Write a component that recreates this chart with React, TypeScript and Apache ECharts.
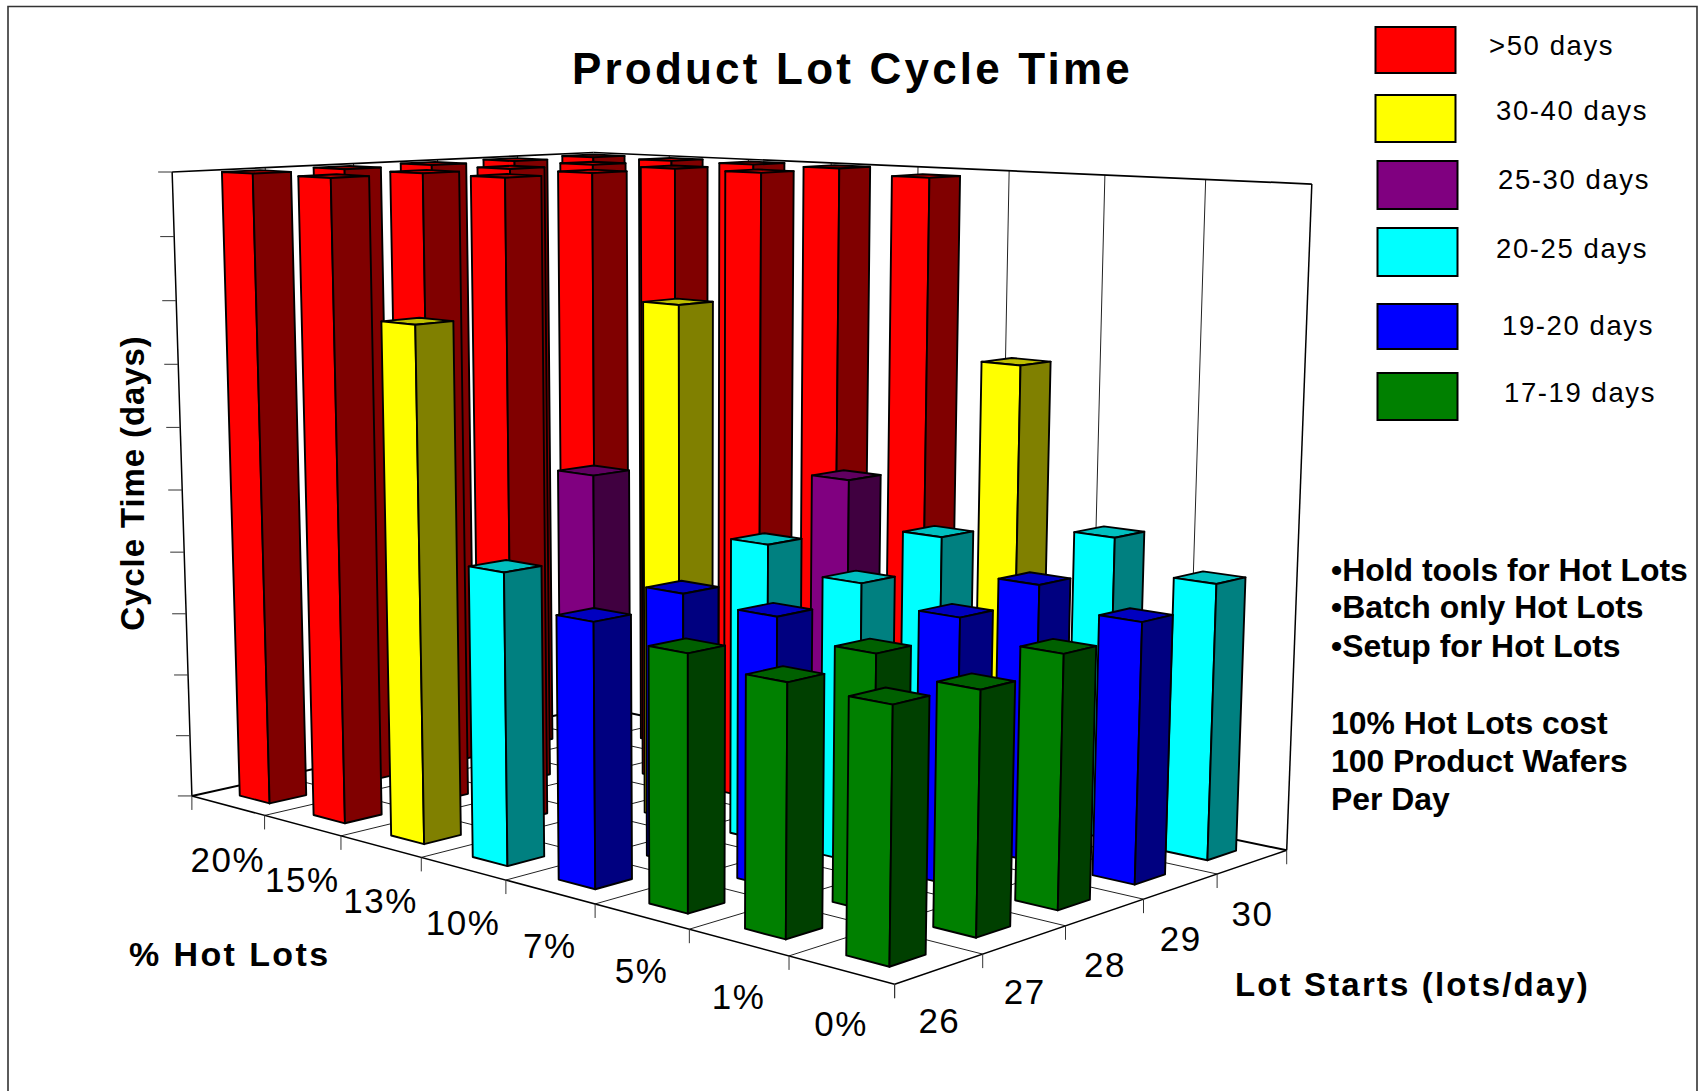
import React, { useEffect, useRef } from "react";
import * as echarts from "echarts";

const hotLots = ["20%", "15%", "13%", "10%", "7%", "5%", "1%", "0%"];
const lotStarts = ["26", "27", "28", "29", "30"];
const zTickCount = 10;
const zMax = 50;

// cycle time in days per lot-start row, ordered like hotLots
const days26 = [50, 50, 39.6, 22.15, 19.7, 18.7, 18, 17.85];
const days27 = [50, 50, 50, 28.3, 20.5, 20, 18.6, 17.4];
const days28 = [50, 50, 50, 40.4, 23, 21.2, 19.85, 18.5];
const days29 = [50, 50, 50, 50, 26.9, 23.5, 21, 19.45];
const days30 = [50, 50, 50, 50, 49.6, 35.7, 23.4, 21];
const daysByStart = [days26, days27, days28, days29, days30];

// index into bandLabels per lot-start row
const band26 = [0, 0, 1, 3, 4, 5, 5, 5];
const band27 = [0, 0, 0, 2, 4, 4, 5, 5];
const band28 = [0, 0, 0, 1, 3, 3, 4, 5];
const band29 = [0, 0, 0, 0, 2, 3, 4, 4];
const band30 = [0, 0, 0, 0, 0, 1, 3, 3];
const bandByStart = [band26, band27, band28, band29, band30];

const bandLabels = [">50 days", "30-40 days", "25-30 days", "20-25 days", "19-20 days", "17-19 days"];
const bandFront = ["#ff0000", "#ffff00", "#800080", "#00ffff", "#0000ff", "#008000"];
const bandSide = ["#800000", "#808000", "#400040", "#008080", "#000080", "#004000"];
const bandTop = ["#c00000", "#c0c000", "#600060", "#00c0c0", "#0000c0", "#006000"];

const noteLines = ["•Hold tools for Hot Lots", "•Batch only Hot Lots", "•Setup for Hot Lots", "10% Hot Lots cost", "100 Product Wafers", "Per Day"];

const titleText = "Product Lot Cycle Time";
const xTitle = "% Hot Lots";
const yTitle = "Lot Starts (lots/day)";
const zTitle = "Cycle Time (days)";

const FONT = '"Liberation Sans", Arial, sans-serif';
const NX = hotLots.length;
const NY = lotStarts.length;

// calibration of the 3D box: [x(0..1), y(0..1), z(0..1), screenX, screenY]
const calib = [
  [0, 0, 0, 193, 795.3],
  [1, 0, 0, 894.4, 985],
  [1, 1, 0, 1287.5, 849.3],
  [0, 1, 0, 595.5, 707],
  [0, 0, 1, 171.2, 172],
  [0, 1, 1, 595, 152.3],
  [1, 1, 1, 1311.2, 184.3],
];

function solve(A: number[][], b: number[]) {
  const n = b.length;
  const M = A.map((r, i) => [...r, b[i]]);
  for (let c = 0; c < n; c++) {
    let p = c;
    for (let r = c + 1; r < n; r++) if (Math.abs(M[r][c]) > Math.abs(M[p][c])) p = r;
    [M[c], M[p]] = [M[p], M[c]];
    for (let r = 0; r < n; r++) {
      if (r === c) continue;
      const f = M[r][c] / M[c][c];
      for (let k = c; k <= n; k++) M[r][k] -= f * M[c][k];
    }
  }
  return M.map((r, i) => r[n] / r[i]);
}

function camera() {
  const rows: number[][] = [];
  const rhs: number[] = [];
  calib.forEach(([x, y, z, u, v]) => {
    rows.push([x, y, z, 1, 0, 0, 0, 0, -u * x, -u * y, -u * z]);
    rhs.push(u);
    rows.push([0, 0, 0, 0, x, y, z, 1, -v * x, -v * y, -v * z]);
    rhs.push(v);
  });
  const AtA = Array.from({ length: 11 }, (_, i) =>
    Array.from({ length: 11 }, (_, j) => rows.reduce((s, r) => s + r[i] * r[j], 0))
  );
  const Atb = Array.from({ length: 11 }, (_, i) => rows.reduce((s, r, k) => s + r[i] * rhs[k], 0));
  return solve(AtA, Atb);
}
const P = camera();

// X: hot-lot cells (0 = 20% side), Y: lot-start cells (0 = 26 side), Z: days
function project(X: number, Y: number, Z: number): number[] {
  const x = X / NX, y = Y / NY, z = Z / zMax;
  const w = P[8] * x + P[9] * y + P[10] * z + 1;
  return [(P[0] * x + P[1] * y + P[2] * z + P[3]) / w, (P[4] * x + P[5] * y + P[6] * z + P[7]) / w];
}

function line(a: number[], b: number[], lineWidth: number, stroke = "#000") {
  return { type: "line", shape: { x1: a[0], y1: a[1], x2: b[0], y2: b[1] }, style: { stroke, lineWidth } };
}
function label(text: string, x: number, y: number, fontSize: number) {
  return {
    type: "text", x, y,
    style: { text, fontSize, fontFamily: FONT, fill: "#000", align: "center", verticalAlign: "middle" },
  };
}

function renderFrame() {
  const ch: any[] = [];
  // wall verticals
  for (let i = 1; i < NX; i++) ch.push(line(project(i, NY, 0), project(i, NY, zMax), 1, "#222"));
  for (let j = 1; j < NY; j++) ch.push(line(project(0, j, 0), project(0, j, zMax), 1, "#222"));
  // floor grid
  for (let i = 1; i < NX; i++) ch.push(line(project(i, 0, 0), project(i, NY, 0), 1, "#222"));
  for (let j = 1; j < NY; j++) ch.push(line(project(0, j, 0), project(NX, j, 0), 1, "#222"));
  // box edges
  ch.push(line(project(0, 0, 0), project(0, NY, 0), 2));
  ch.push(line(project(0, NY, 0), project(NX, NY, 0), 2));
  ch.push(line(project(0, 0, 0), project(NX, 0, 0), 1.5));
  ch.push(line(project(NX, 0, 0), project(NX, NY, 0), 1.5));
  ch.push(line(project(0, 0, 0), project(0, 0, zMax), 1.5));
  ch.push(line(project(NX, NY, 0), project(NX, NY, zMax), 1.5));
  ch.push(line(project(0, 0, zMax), project(0, NY, zMax), 1.7));
  ch.push(line(project(0, NY, zMax), project(NX, NY, zMax), 1.7));
  // z ticks
  for (let k = 0; k <= zTickCount; k++) {
    const p = project(0, 0, (k * zMax) / zTickCount);
    ch.push(line([p[0] - 14, p[1]], p, 1, "#333"));
  }
  // hot-lot ticks and labels
  for (let i = 0; i <= NX; i++) {
    const p = project(i, 0, 0);
    ch.push(line(p, [p[0], p[1] + 14], 1, "#333"));
    if (i < NX) {
      const c = project(i + 0.5, 0, 0);
      ch.push(label(hotLots[i], c[0], c[1] + 54, 35));
    }
  }
  // lot-start ticks and labels
  for (let j = 0; j <= NY; j++) {
    const p = project(NX, j, 0);
    ch.push(line(p, [p[0], p[1] + 14], 1, "#333"));
    if (j < NY) {
      const c = project(NX, j + 0.5, 0);
      ch.push(label(lotStarts[j], c[0], c[1] + 52, 35));
    }
  }
  return { type: "group", children: ch };
}

const BAR = 0.41;
function renderBar(_: any, api: any) {
  const h = api.value(0), s = api.value(1), v = api.value(2), b = api.value(3);
  const m = (1 - BAR) / 2;
  const x0 = h + m, x1 = h + 1 - m, y0 = s + m, y1 = s + 1 - m;
  const lw = 1.9;
  const face = (pts: number[][], fill: string) => ({
    type: "polygon",
    shape: { points: pts },
    style: { fill, stroke: "#000", lineWidth: lw, lineJoin: "round" },
  });
  return {
    type: "group",
    children: [
      face([project(x0, y1, v), project(x1, y1, v), project(x1, y0, v), project(x0, y0, v)], bandTop[b]),
      face([project(x0, y0, 0), project(x1, y0, 0), project(x1, y0, v), project(x0, y0, v)], bandFront[b]),
      face([project(x1, y0, 0), project(x1, y1, 0), project(x1, y1, v), project(x1, y0, v)], bandSide[b]),
    ],
  };
}

function barRows() {
  const rows: number[][] = [];
  for (let h = 0; h < NX; h++)
    for (let s = NY - 1; s >= 0; s--) rows.push([h, s, daysByStart[s][h], bandByStart[s][h]]);
  return rows;
}

function plainText(text: string, x: number, baseline: number, fontSize: number, scaleX: number, bold: boolean) {
  return {
    type: "text", x, y: baseline - 0.35 * fontSize, scaleX, silent: true,
    style: {
      text, fontSize, fontFamily: FONT, fontWeight: bold ? "bold" : "normal",
      fill: "#000", align: "left", verticalAlign: "middle",
    },
  };
}

// legend layout: swatch x, y, w, h, then text x, baseline
const legendBoxes = [
  [1375.5, 27, 80, 46, 1489, 55],
  [1375.5, 95, 80, 47, 1496, 120],
  [1377.5, 161, 80, 48, 1498, 189],
  [1377.5, 228, 80, 48, 1496, 258],
  [1377.5, 304, 80, 45, 1502, 335],
  [1377.5, 373, 80, 47, 1504, 402],
];
const noteBaselines = [582, 619, 658, 735, 773, 811];

function buildGraphic() {
  const els: any[] = [];
  els.push({
    type: "polyline", silent: true,
    shape: { points: [[8, 1091], [8, 6.5], [1697, 6.5], [1697, 1091]] },
    style: { stroke: "#333", lineWidth: 1.6, fill: "none" },
  });
  els.push(plainText(titleText, 572, 84, 44, 1, true));
  legendBoxes.forEach((b, i) => {
    els.push({
      type: "rect", silent: true,
      shape: { x: b[0], y: b[1], width: b[2], height: b[3] },
      style: { fill: bandFront[i], stroke: "#000", lineWidth: 2 },
    });
    els.push(plainText(bandLabels[i], b[4], b[5], 27.5, 1, false));
  });
  noteLines.forEach((t, i) => els.push(plainText(t, 1331, noteBaselines[i], 31, 1.03, true)));
  els.push(plainText(xTitle, 129, 966, 34, 1, true));
  els.push(plainText(yTitle, 1235, 996, 33, 1, true));
  els.push({
    type: "text", x: 132, y: 483, rotation: Math.PI / 2, silent: true,
    style: {
      text: zTitle, fontSize: 33, fontFamily: FONT, fontWeight: "bold",
      fill: "#000", align: "center", verticalAlign: "middle",
    },
  });
  return els;
}

function spacingFor(text: string) {
  if (text === titleText) return 3.2;
  if (text === xTitle) return 2.4;
  if (text === yTitle) return 2.15;
  if (text === zTitle) return 0.9;
  if (bandLabels.includes(text)) return 1.6;
  if (hotLots.includes(text) || lotStarts.includes(text)) return 1.5;
  return 0;
}

export default function App() {
  const ref = useRef<HTMLDivElement>(null);
  useEffect(() => {
    document.body.style.margin = "0";
    const chart = echarts.init(ref.current!, undefined, { renderer: "svg" });
    chart.setOption({
      animation: false,
      backgroundColor: "#fff",
      series: [
        { type: "custom", coordinateSystem: "none", silent: true, data: [[0]], renderItem: renderFrame, z: 1 },
        { type: "custom", coordinateSystem: "none", silent: true, data: barRows(), renderItem: renderBar, z: 2 },
      ],
      graphic: buildGraphic(),
    });
    ref.current!.querySelectorAll("text").forEach((t) => {
      const s = spacingFor(t.textContent || "");
      if (s) t.setAttribute("letter-spacing", String(s));
    });
    return () => chart.dispose();
  }, []);
  return <div ref={ref} style={{ position: "absolute", left: 0, top: 0, width: 1700, height: 1091 }} />;
}
